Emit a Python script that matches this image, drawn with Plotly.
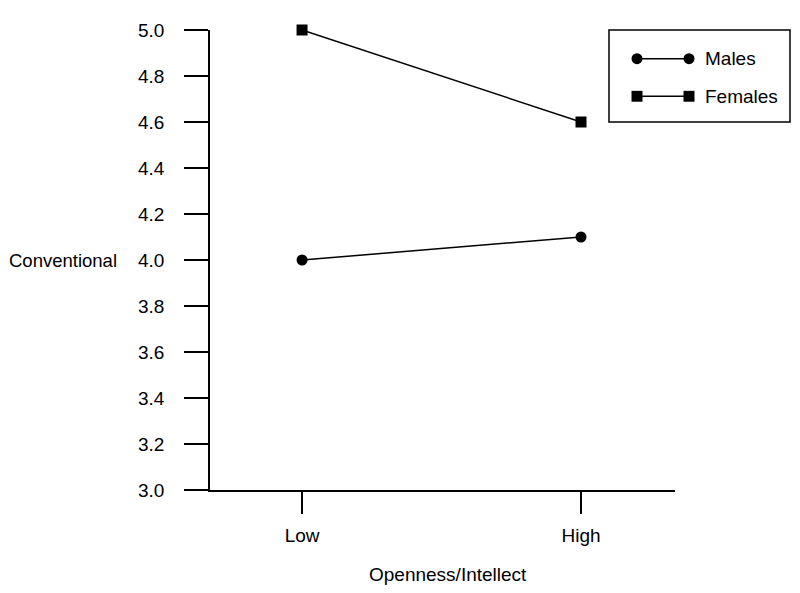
import plotly.graph_objects as go

categories = ["Low", "High"]
cat_pos = [0, 1]
males = [4.0, 4.1]
females = [5.0, 4.6]
y_ticks = [3.0, 3.2, 3.4, 3.6, 3.8, 4.0, 4.2, 4.4, 4.6, 4.8, 5.0]

OFF = 8  # page body margin offset
W, H = 800 - 2 * OFF, 593 - 2 * OFF
L, R, T, B = 210 - OFF, 675 - OFF, 25 - OFF, 490 - OFF

# reference plot area in page pixels
RL, RR, RT, RB = 210, 675, 25, 490

def px(x):
    return (x - RL) / (RR - RL)

def py(y):
    return (RB - y) / (RB - RT)

font = dict(family="Liberation Sans, Arial, sans-serif", size=19, color="black")

fig = go.Figure()
fig.add_trace(go.Scatter(x=cat_pos, y=males, mode="lines+markers", name="Males",
                         line=dict(color="black", width=1.5),
                         marker=dict(symbol="circle", size=11, color="black"),
                         showlegend=False, cliponaxis=False))
fig.add_trace(go.Scatter(x=cat_pos, y=females, mode="lines+markers", name="Females",
                         line=dict(color="black", width=1.5),
                         marker=dict(symbol="square", size=11, color="black"),
                         showlegend=False, cliponaxis=False))

# manual legend
shapes = [dict(type="rect", xref="paper", yref="paper", x0=px(609), x1=px(790),
               y0=py(118), y1=py(25), line=dict(color="black", width=1.5))]
annotations = []
rows = [("Males", 54, "circle"), ("Females", 92, "square")]
for name, yy, sym in rows:
    shapes.append(dict(type="line", xref="paper", yref="paper", x0=px(637), x1=px(689),
                       y0=py(yy), y1=py(yy), line=dict(color="black", width=1.5)))
    for xx in (637, 689):
        r = 5.5
        shapes.append(dict(type="circle" if sym == "circle" else "rect", xref="paper", yref="paper",
                           x0=px(xx - r), x1=px(xx + r), y0=py(yy + r), y1=py(yy - r),
                           fillcolor="black", line=dict(color="black", width=0)))
    annotations.append(dict(x=px(703), y=py(yy), xref="paper", yref="paper", text=name,
                            showarrow=False, xanchor="left", yanchor="middle", font=font))

annotations.append(dict(x=px(119), y=4.0, xref="paper", yref="y", text="Conventional",
                        showarrow=False, xanchor="right", yanchor="middle",
                        font=dict(font, size=18.5)))
annotations.append(dict(x=px(448), y=py(575), xref="paper", yref="paper", text="Openness/Intellect",
                        showarrow=False, xanchor="center", yanchor="middle", font=font))

fig.update_layout(
    width=W, height=H,
    margin=dict(l=L, r=W - R, t=T, b=H - B),
    paper_bgcolor="white", plot_bgcolor="white",
    font=font,
    shapes=shapes, annotations=annotations,
    xaxis=dict(range=[-0.33, 1.337], tickvals=cat_pos, ticktext=categories,
               showgrid=False, zeroline=False, showline=True, linecolor="black", linewidth=1.5,
               ticks="outside", ticklen=22, tickwidth=1.5, tickcolor="black",
               ticklabelstandoff=5, fixedrange=True),
    yaxis=dict(range=[3.0, 5.0], tickvals=y_ticks, ticktext=[f"{v:.1f}" for v in y_ticks],
               showgrid=False, zeroline=False, showline=True, linecolor="black", linewidth=1.5,
               ticks="outside", ticklen=24, tickwidth=1.5, tickcolor="black",
               ticklabelstandoff=16, fixedrange=True),
)

fig.write_html("out.html")
